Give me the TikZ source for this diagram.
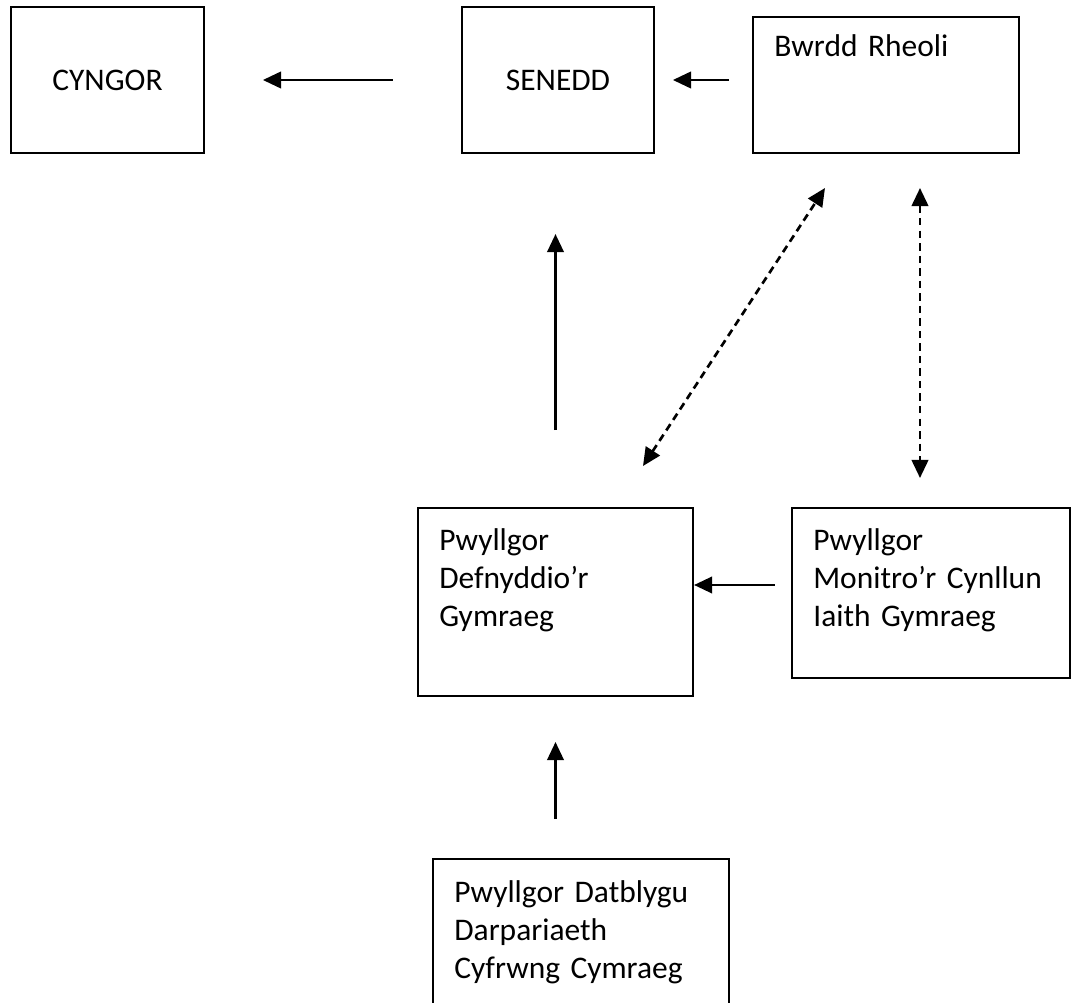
\documentclass[tikz,border=0pt]{standalone}
\usepackage{fontspec}
\setmainfont{Carlito}[WordSpace=0.8]
\usetikzlibrary{arrows.meta}

\tikzset{
  blwch/.style={draw, line width=1pt, inner sep=0pt, outer sep=0pt, font=\fontsize{11.8}{14.4}\selectfont},
  testun/.style={blwch, anchor=north west, align=left, inner xsep=8pt},
  saeth/.style={line width=0.9pt, -{Triangle[length=6.8pt,width=6.2pt]}},
  dwbl/.style={line width=1pt, {Triangle[length=6.8pt,width=6.2pt]}-{Triangle[length=6.8pt,width=6.2pt]}, dash pattern=on 2.8pt off 1.9pt}
}

\begin{document}
\begin{tikzpicture}[x=0.375pt, y=-0.375pt]
\useasboundingbox (0,0) rectangle (1074,1003);
% top row
\node[blwch, minimum width=72.375pt, minimum height=54.75pt] (cyngor) at (107.5,80) {CYNGOR};
\node[blwch, minimum width=72pt, minimum height=54.75pt] (senedd) at (558,80) {SENEDD};
\node[testun, text width=83.75pt, text height=15pt, text depth=36pt] (bwrdd) at (753,17) {Bwrdd Rheoli};
% committees
\node[testun, text width=87.125pt, text height=15.75pt, text depth=54.75pt] (defnyddio) at (418,508) {Pwyllgor\\Defnyddio’r\\Gymraeg};
\node[testun, text width=88.25pt, text height=15.75pt, text depth=48pt] (monitro) at (792,508) {Pwyllgor\\Monitro’r Cynllun\\Iaith Gymraeg};
\node[testun, text width=95pt, text height=16.125pt, text depth=42.4pt] (datblygu) at (433,859) {Pwyllgor Datblygu\\Darpariaeth\\Cyfrwng Cymraeg};
% solid arrows
\draw[saeth, shorten <=25.9pt, shorten >=22.1pt] (senedd.west) -- (cyngor.east);
\draw[saeth, shorten <=9pt, shorten >=7.1pt] (bwrdd.west |- senedd.east) -- (senedd.east);
\draw[saeth, shorten <=29.25pt, shorten >=30.4pt] (defnyddio.north) -- (defnyddio.north |- senedd.south);
\draw[saeth, shorten <=15pt, shorten >=17.25pt] (datblygu.north -| defnyddio.south) -- (defnyddio.south);
\draw[saeth, shorten <=6.4pt, shorten >=0.4pt] ([yshift=3pt]monitro.west) -- ([yshift=3pt]monitro.west -| defnyddio.east);
% dashed two-way arrows
\coordinate (d1) at (643,466);
\coordinate (d2) at (825,188);
\coordinate (m1) at (920,188);
\coordinate (m2) at (920,478);
\draw[dwbl] (d1) -- (d2);
\draw[dwbl] (m1) -- (m2);
\end{tikzpicture}
\end{document}
